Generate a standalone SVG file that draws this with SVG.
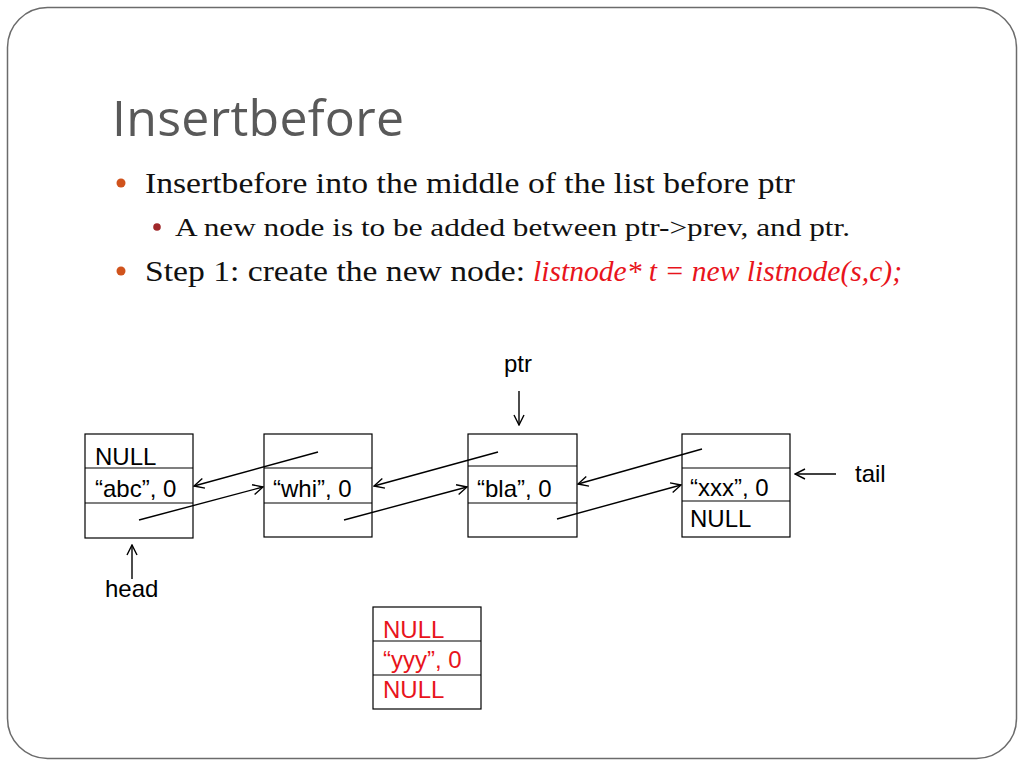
<svg xmlns="http://www.w3.org/2000/svg" width="1024" height="768" viewBox="0 0 1024 768">
<defs>
<marker id="ah" viewBox="0 0 12 12" refX="11" refY="6" markerWidth="12" markerHeight="12" markerUnits="userSpaceOnUse" orient="auto">
<path d="M1,1 L11,6 L1,11" fill="none" stroke="#000" stroke-width="1.4"/>
</marker>
</defs>
<style>
.box{fill:#fff;stroke:#000;stroke-width:1.2}
.div{stroke:#000;stroke-width:1.2}
.lbl{font-family:"Liberation Sans",Arial,sans-serif;font-size:24px;fill:#000}
.red{fill:#e8141c}
.ser{font-family:"Liberation Serif","Times New Roman",serif;fill:#111}
.con{stroke:#000;stroke-width:1.4;fill:none;marker-end:url(#ah)}
</style>
<rect x="0" y="0" width="1024" height="768" fill="#fff"/>
<rect x="7.5" y="7.5" width="1009" height="751" rx="40" ry="40" fill="none" stroke="#6b6b6b" stroke-width="1.5"/>

<text x="112" y="136" font-family="Open Sans,Liberation Sans,sans-serif" font-size="50" fill="#595959" textLength="292">Insertbefore</text>

<g id="bullets">
<circle cx="121" cy="183" r="4.5" fill="#d0531c"/>
<text class="ser" x="145" y="193" font-size="29" textLength="650" lengthAdjust="spacingAndGlyphs">Insertbefore into the middle of the list before ptr</text>
<circle cx="157" cy="227" r="3.8" fill="#a0282a"/>
<text class="ser" x="175" y="236" font-size="26" textLength="675" lengthAdjust="spacingAndGlyphs">A new node is to be added between ptr-&gt;prev, and ptr.</text>
<circle cx="121" cy="271" r="4.5" fill="#d0531c"/>
<text class="ser" x="145" y="281" font-size="29" textLength="380" lengthAdjust="spacingAndGlyphs">Step 1: create the new node:</text>
<text class="ser" x="533" y="281" font-size="29" font-style="italic" style="fill:#e8141c" textLength="369" lengthAdjust="spacingAndGlyphs">listnode* t = new listnode(s,c);</text>
</g>

<g id="node-abc">
<rect class="box" x="85" y="434" width="108" height="104"/>
<line class="div" x1="85" y1="468" x2="193" y2="468"/>
<line class="div" x1="85" y1="503" x2="193" y2="503"/>
<text class="lbl" x="95" y="465">NULL</text>
<text class="lbl" x="95" y="497">“abc”, 0</text>
</g>
<g id="node-whi">
<rect class="box" x="264" y="434" width="108" height="103"/>
<line class="div" x1="264" y1="468" x2="372" y2="468"/>
<line class="div" x1="264" y1="503" x2="372" y2="503"/>
<text class="lbl" x="273" y="497">“whi”, 0</text>
</g>
<g id="node-bla">
<rect class="box" x="468" y="434" width="109" height="103"/>
<line class="div" x1="468" y1="466" x2="577" y2="466"/>
<line class="div" x1="468" y1="503" x2="577" y2="503"/>
<text class="lbl" x="477" y="497">“bla”, 0</text>
</g>
<g id="node-xxx">
<rect class="box" x="682" y="434" width="108" height="103"/>
<line class="div" x1="682" y1="468" x2="790" y2="468"/>
<line class="div" x1="682" y1="501" x2="790" y2="501"/>
<text class="lbl" x="690" y="496">“xxx”, 0</text>
<text class="lbl" x="690" y="527">NULL</text>
</g>
<g id="node-yyy">
<rect class="box" x="373" y="607" width="108" height="102"/>
<line class="div" x1="373" y1="641" x2="481" y2="641"/>
<line class="div" x1="373" y1="675" x2="481" y2="675"/>
<text class="lbl red" x="383" y="638">NULL</text>
<text class="lbl red" x="383" y="668">“yyy”, 0</text>
<text class="lbl red" x="383" y="698">NULL</text>
</g>

<g id="labels">
<text class="lbl" x="504" y="372">ptr</text>
<text class="lbl" x="855" y="482">tail</text>
<text class="lbl" x="105" y="597">head</text>
</g>

<g id="connectors">
<line class="con" x1="318" y1="452" x2="194" y2="486"/>
<line class="con" x1="139" y1="520" x2="263" y2="487"/>
<line class="con" x1="498" y1="452" x2="374" y2="486"/>
<line class="con" x1="344" y1="520" x2="467" y2="487"/>
<line class="con" x1="702" y1="449" x2="578" y2="484"/>
<line class="con" x1="557" y1="519" x2="681" y2="485"/>
<line class="con" x1="519" y1="391" x2="519" y2="425"/>
<line class="con" x1="836" y1="474" x2="795" y2="474"/>
<line class="con" x1="132" y1="579" x2="132" y2="545"/>
</g>
</svg>
